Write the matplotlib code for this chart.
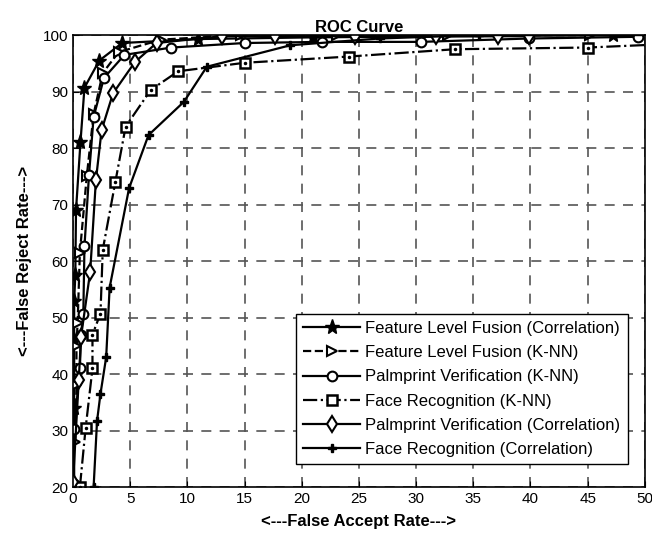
import matplotlib
matplotlib.use('Agg')
import matplotlib.pyplot as plt

plt.rcParams['font.family'] = ['Liberation Sans', 'DejaVu Sans']

# Feature Level Fusion (Correlation)
fusion_corr_x = [0, 0.1, 0.1, 0.1, 0.2, 0.26, 0.65, 1.0, 2.3, 4.3, 10.9, 21.0, 47.2]
fusion_corr_y = [20.5, 34, 46, 53, 57.5, 69, 81, 90.7, 95.5, 98.6, 99.3, 99.6, 100]
# Feature Level Fusion (K-NN)
fusion_knn_x = [0.2, 0.3, 0.3, 0.4, 0.6, 1.2, 1.8, 2.6, 4.0, 7.7, 14.7, 23.1, 32.8, 45.2]
fusion_knn_y = [28, 38, 45, 49, 61.5, 75, 86, 93.3, 97, 99.2, 100, 100, 100, 100]
# Palmprint Verification (K-NN)
palm_knn_x = [0.1, 0.1, 0.6, 0.7, 0.9, 1.0, 1.4, 1.8, 2.7, 4.5, 8.6, 15.0, 21.8, 30.4, 39.9, 49.4]
palm_knn_y = [20.5, 30.3, 41, 47, 50.7, 62.6, 75.3, 85.5, 92.4, 96.5, 97.8, 98.6, 98.8, 98.8, 99.4, 99.7]
# Face Recognition (K-NN)
face_knn_x = [0.6, 1.1, 1.7, 1.7, 2.4, 2.6, 3.7, 4.6, 6.8, 9.2, 15.0, 24.1, 33.4, 45.0, 53.0]
face_knn_y = [20, 30.4, 41, 47, 50.7, 62, 74, 83.8, 90.3, 93.6, 95.1, 96.2, 97.5, 97.8, 98.5]
# Palmprint Verification (Correlation)
palm_corr_x = [0, 0.5, 0.7, 1.5, 2.0, 2.5, 3.5, 5.4, 7.3, 13.0, 17.7, 24.7, 31.7, 37.2, 39.9]
palm_corr_y = [20.9, 38.9, 46.6, 58.1, 74.3, 83.2, 89.7, 95.2, 98.6, 99.8, 99.8, 99.8, 99.8, 99.8, 99.8]
# Face Recognition (Correlation)
face_corr_x = [1.6, 1.8, 2.1, 2.4, 2.9, 3.2, 4.9, 6.6, 9.7, 11.7, 19.0, 26.8, 35.5, 53.0]
face_corr_y = [17, 20, 31.7, 36.5, 43, 55.3, 72.9, 82.3, 88.2, 94.4, 98.2, 99.4, 100, 100]

fig = plt.figure(figsize=(6.52, 5.4), dpi=100)
ax = fig.add_axes([0.112, 0.098, 0.877, 0.837])

lw = 1.6
ax.plot(fusion_corr_x, fusion_corr_y, '-', color='k', lw=lw, marker='*', ms=11,
        mfc='k', mec='k', label='Feature Level Fusion (Correlation)')
ax.plot(fusion_knn_x, fusion_knn_y, '--', color='k', lw=lw, marker='>', ms=7,
        mfc='white', mec='k', mew=1.5, label='Feature Level Fusion (K-NN)')
ax.plot(palm_knn_x, palm_knn_y, '-', color='k', lw=lw, marker='o', ms=7,
        mfc='white', mec='k', mew=1.5, label='Palmprint Verification (K-NN)')
ax.plot(face_knn_x, face_knn_y, '-.', color='k', lw=lw, marker='s', ms=7,
        mfc='white', mec='k', mew=1.8, label='Face Recognition (K-NN)')
ax.plot(face_knn_x, face_knn_y, ' ', marker='.', ms=3, color='k')
ax.plot(palm_corr_x, palm_corr_y, '-', color='k', lw=lw, marker='d', ms=8,
        mfc='white', mec='k', mew=1.5, label='Palmprint Verification (Correlation)')
ax.plot(face_corr_x, face_corr_y, '-', color='k', lw=lw, marker='P', ms=5.5,
        mfc='k', mec='k', label='Face Recognition (Correlation)')

ax.set_xlim(0, 50)
ax.set_ylim(20, 100)
ax.set_xticks(range(0, 51, 5))
ax.set_yticks(range(20, 101, 10))
ax.tick_params(direction='in', labelsize=11, length=4)
ax.grid(True, linestyle=(0, (6, 5)), color='#555555', linewidth=1.2)
for s in ax.spines.values():
    s.set_linewidth(1.2)

ax.set_title('ROC Curve', fontsize=12, fontweight='bold', pad=2)
ax.set_xlabel('<---False Accept Rate--->', fontsize=12, fontweight='bold', labelpad=6)
ax.set_ylabel('<---False Reject Rate--->', fontsize=12, fontweight='bold', labelpad=8)

leg = ax.legend(loc='lower right', bbox_to_anchor=(0.97, 0.05), fontsize=12,
                frameon=True, fancybox=False, edgecolor='k', framealpha=1,
                borderpad=0.45, labelspacing=0.55, handlelength=3.4, handletextpad=0.3,
                borderaxespad=0)
leg.get_frame().set_linewidth(1.0)

fig.savefig('out.png', dpi=100)
